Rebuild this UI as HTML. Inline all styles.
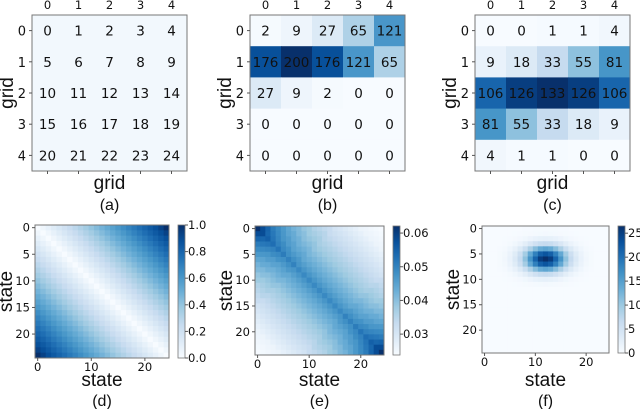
<!DOCTYPE html>
<html><head><meta charset="utf-8"><style>
body{margin:0;background:#fff;}
svg text{font-family:"DejaVu Sans","Liberation Sans",sans-serif;fill:#111;}
.lab{font-family:"Liberation Sans",sans-serif;}
</style></head><body>
<svg id="s" width="640" height="409" viewBox="0 0 640 409" xmlns="http://www.w3.org/2000/svg"></svg>
<script>
const gridA=[[0,1,2,3,4],[5,6,7,8,9],[10,11,12,13,14],[15,16,17,18,19],[20,21,22,23,24]];
const gridB=[[2,9,27,65,121],[176,200,176,121,65],[27,9,2,0,0],[0,0,0,0,0],[0,0,0,0,0]];
const gridC=[[0,0,1,1,4],[9,18,33,55,81],[106,126,133,126,106],[81,55,33,18,9],[4,1,1,0,0]];
const gridTicks=["0","1","2","3","4"];
// (d) value by |i-j|
const dProfile=[0,0.04,0.08,0.12,0.16,0.2,0.24,0.28,0.32,0.36,0.4,0.44,0.48,0.52,0.56,0.6,0.64,0.68,0.72,0.76,0.8,0.84,0.88,0.93,1.0];
// (e) base by i+j and diagonal falloff by |i-j|
const eBase=[0.062,0.060,0.058,0.056,0.055,0.054,0.053,0.052,0.052,0.051,0.051,0.050,0.050,0.050,0.050,0.049,0.049,0.049,0.049,0.049,0.049,0.049,0.049,0.049,0.049,0.049,0.049,0.049,0.049,0.049,0.049,0.049,0.049,0.049,0.050,0.050,0.050,0.050,0.051,0.051,0.052,0.052,0.053,0.054,0.055,0.056,0.058,0.060,0.062];
const eDiag=[0,-0.002,-0.0035,-0.005,-0.0062,-0.0074,-0.0086,-0.0098,-0.011,-0.012,-0.013,-0.014,-0.015,-0.016,-0.017,-0.018,-0.019,-0.020,-0.021,-0.022,-0.023,-0.0235,-0.024,-0.0245,-0.025];
// (f) separable gaussian profiles
const fRow=[0.01,0.02,0.085,0.25,0.54,0.86,1,0.86,0.54,0.25,0.085,0.02,0,0,0,0,0,0,0,0,0,0,0,0,0];
const fCol=[0,0,0,0.01,0.03,0.07,0.14,0.25,0.41,0.61,0.8,0.95,1,0.95,0.8,0.61,0.41,0.25,0.14,0.07,0.03,0.01,0,0,0];
const fPeak=26.5;
const dTicks=["1.0","0.8","0.6","0.4","0.2","0.0"];
const eTicks=["0.06","0.05","0.04","0.03"];
const fTicks=["25","20","15","10","5","0"];

const stops=["#f7fbff","#deebf7","#c6dbef","#9ecae1","#6baed6","#4292c6","#2171b5","#08519c","#08306b"];
function hex(h){return [1,3,5].map(i=>parseInt(h.substr(i,2),16));}
function blues(t){t=Math.max(0,Math.min(1,t));const p=t*8,i=Math.min(7,Math.floor(p)),f=p-i;const a=hex(stops[i]),b=hex(stops[i+1]);return "rgb("+a.map((v,k)=>Math.round(v+(b[k]-v)*f)).join(",")+")";}
const S=document.getElementById('s');const NS="http://www.w3.org/2000/svg";
function el(t,a,txt){const e=document.createElementNS(NS,t);for(const k in a)e.setAttribute(k,a[k]);if(txt!==undefined)e.textContent=txt;S.appendChild(e);return e;}
function txt(x,y,s,size,anchor,name,rot,cls){const a={x:x,y:y,'font-size':size,'text-anchor':anchor||'middle'};if(rot)a.transform="rotate(-90 "+x+" "+y+")";if(cls)a['class']=cls;const t=el('text',a,s);return t;}

function gridPanel(x0,y0,w,h,data,vmax,tag,uniform){
  const n=5,cw=w/n,ch=h/n;
  for(let r=0;r<n;r++)for(let c=0;c<n;c++){
    const v=data[r][c];
    const rc=el('rect',{x:x0+c*cw,y:y0+r*ch,width:cw+0.5,height:ch+0.5,fill:uniform?"#f2f8fd":blues(v/vmax)});
    
    txt(x0+(c+.5)*cw,y0+(r+.5)*ch+5,String(v),13.5,'middle','cell-value');
  }
  const b=el('rect',{x:x0,y:y0,width:w,height:h,fill:'none',stroke:'#777','stroke-width':1});
  
  for(let i=0;i<n;i++){
    const cx=x0+(i+.5)*cw,cy=y0+(i+.5)*ch;
    txt(cx,9,gridTicks[i],11.5,'middle','x-tick-label');
    el('line',{x1:cx,y1:y0+h,x2:cx,y2:y0+h+3,stroke:'#555'});
    el('line',{x1:x0-3,y1:cy,x2:x0,y2:cy,stroke:'#555'});
    txt(x0-6,cy+5,gridTicks[i],13,'end','y-tick-label');
  }
  txt(x0+w/2,189,'grid',19,'middle','x-axis-title',false,'lab');
  txt(x0-19,y0+h/2,'grid',19,'middle','y-axis-title',true,'lab');
  txt(x0+w/2,210,'('+tag+')',16,'middle','panel-label',false,'lab');
}
gridPanel(32,15,155,156,gridA,24,'a',true);
gridPanel(250,15,155,156,gridB,200,'b');
gridPanel(475,15,155,156,gridC,133,'c');

function statePanel(x0,y0,w,h,val,vmin,vmax,tag,cbx,ticks,tickVals,yticks){
  const n=25,cw=w/n,ch=h/n;
  for(let r=0;r<n;r++)for(let c=0;c<n;c++){
    const rc=el('rect',{x:x0+c*cw,y:y0+r*ch,width:cw+0.4,height:ch+0.4,fill:blues((val(r,c)-vmin)/(vmax-vmin))});
    
  }
  const b=el('rect',{x:x0,y:y0,width:w,height:h,fill:'none',stroke:'#777','stroke-width':1});
  
  [0,10,20].forEach(v=>{const cx=x0+(v+.5)*cw;el('line',{x1:cx,y1:y0+h,x2:cx,y2:y0+h+3,stroke:'#555'});txt(cx,y0+h+13,String(v),11.5,'middle','x-tick-label');});
  yticks.forEach(v=>{const cy=y0+(v+.5)*ch;el('line',{x1:x0-3,y1:cy,x2:x0,y2:cy,stroke:'#555'});txt(x0-5,cy+4,String(v),11.5,'end','y-tick-label');});
  txt(x0+w/2,386,'state',19,'middle','x-axis-title',false,'lab');
  txt(x0-23,y0+h/2,'state',19,'middle','y-axis-title',true,'lab');
  txt(x0+w/2,406,'('+tag+')',16,'middle','panel-label',false,'lab');
  const g=el('linearGradient',{id:'g'+tag,x1:0,y1:1,x2:0,y2:0});
  for(let i=0;i<=16;i++){const s=document.createElementNS(NS,'stop');s.setAttribute('offset',i/16);s.setAttribute('stop-color',blues(i/16));g.appendChild(s);}
  const cb=el('rect',{x:cbx,y:y0,width:7,height:h,fill:'url(#g'+tag+')',stroke:'#777','stroke-width':0.8});
  
  ticks.forEach((t,i)=>{const cy=y0+h-(tickVals[i]-vmin)/(vmax-vmin)*h;el('line',{x1:cbx+7,y1:cy,x2:cbx+10,y2:cy,stroke:'#555'});txt(cbx+10,cy+4,t,11.5,'start','colorbar-tick-label');});
}
statePanel(35,225,134,133,(r,c)=>dProfile[Math.abs(r-c)],0,1,'d',178,dTicks,dTicks.map(Number),[0,5,10,15,20]);
statePanel(255,226,129,129,(r,c)=>eBase[r+c]+eDiag[Math.abs(r-c)],0.0238,0.0621,'e',393,eTicks,eTicks.map(Number),[0,5,10,15,20]);
statePanel(482,226,127,127,(r,c)=>fPeak*fRow[r]*fCol[c],0,26.5,'f',618,fTicks,fTicks.map(Number),[0,5,10,15,20]);
</script>
</body></html>
